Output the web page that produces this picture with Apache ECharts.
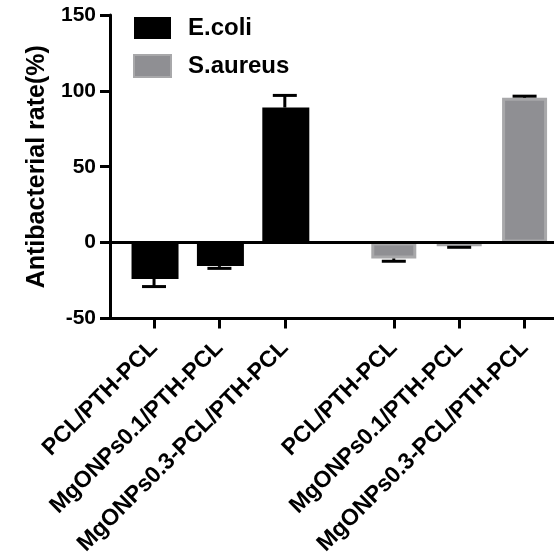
<!DOCTYPE html>
<html>
<head>
<meta charset="utf-8">
<script src="https://cdn.jsdelivr.net/npm/echarts@6/dist/echarts.min.js"></script>
<style>html,body{margin:0;padding:0;background:#fff;}#c{width:554px;height:558px;}</style>
</head>
<body>
<div id="c"></div>
<script>
// ---- data ----
const categories = ['PCL/PTH-PCL', 'MgONPs0.1/PTH-PCL', 'MgONPs0.3-PCL/PTH-PCL'];
const seriesNames = ['E.coli', 'S.aureus'];
const ecoliMean = [-24, -15.5, 89];
const ecoliSD = [5, 1.5, 8];
const saureusMean = [-10.5, -2.5, 95.5];
const saureusSD = [1.8, 0.6, 1];
const yTicks = [-50, 0, 50, 100, 150];

// ---- layout helpers (group g, item i) ----
const pos = (g, i) => g * 11 + i * 3;
const tickPos = [];
const tickName = {};
[0, 1].forEach(g => categories.forEach((c, i) => { tickPos.push(pos(g, i)); tickName[pos(g, i)] = c; }));

const FONT = '"Liberation Sans", Arial, Helvetica, sans-serif';
const chart = echarts.init(document.getElementById('c'), null, {renderer: 'canvas'});

function errItem(params, api) {
  const x = api.value(0), m = api.value(1), sd = api.value(2);
  const end = m >= 0 ? m + sd : m - sd;
  const p0 = api.coord([x, m]), p1 = api.coord([x, end]);
  const half = 12;
  return {
    type: 'group',
    children: [
      {type: 'line', shape: {x1: p0[0], y1: p0[1], x2: p1[0], y2: p1[1]}, style: {stroke: '#000', lineWidth: 3}},
      {type: 'line', shape: {x1: p1[0] - half, y1: p1[1], x2: p1[0] + half, y2: p1[1]}, style: {stroke: '#000', lineWidth: 3}}
    ]
  };
}

const option = {
  animation: false,
  backgroundColor: '#fff',
  grid: {left: 110, right: 0, top: 15, bottom: 237, containLabel: false},
  legend: {
    data: seriesNames,
    orient: 'vertical',
    left: 133, top: 16, padding: 0,
    itemWidth: 37, itemHeight: 22, itemGap: 14,
    icon: 'rect',
    textStyle: {fontFamily: FONT, fontSize: 24, fontWeight: 'bold', color: '#000', padding: [0, 0, 0, 12]}
  },
  xAxis: {
    type: 'value',
    min: -2.02, max: 18.35,
    splitLine: {show: false},
    axisLine: {show: true, onZero: false, lineStyle: {color: '#000', width: 3}},
    axisTick: {show: true, customValues: tickPos, length: 10, lineStyle: {color: '#000', width: 3}},
    axisLabel: {
      show: true, customValues: tickPos, rotate: 45, margin: 26,
      formatter: v => tickName[v] || '',
      fontFamily: FONT, fontSize: 23, fontWeight: 'bold', color: '#000'
    }
  },
  yAxis: {
    type: 'value',
    min: -50, max: 150, interval: 50,
    name: 'Antibacterial rate(%)',
    nameLocation: 'middle', nameGap: 58,
    nameTextStyle: {fontFamily: FONT, fontSize: 25, fontWeight: 'bold', color: '#000'},
    splitLine: {show: false},
    axisLine: {show: true, onZero: false, lineStyle: {color: '#000', width: 3}},
    axisTick: {show: true, length: 10, lineStyle: {color: '#000', width: 3}},
    axisLabel: {
      margin: 14, fontFamily: FONT, fontSize: 21, fontWeight: 'bold', color: '#000',
      formatter: v => yTicks.includes(v) ? String(v) : ''
    }
  },
  series: [
    {
      name: seriesNames[0], type: 'bar', barWidth: 47, barGap: '-100%',
      itemStyle: {color: '#000'},
      data: ecoliMean.map((v, i) => [pos(0, i), v]),
      markLine: {
        silent: true, symbol: ['none', 'none'], label: {show: false},
        lineStyle: {color: '#000', width: 3, type: 'solid'},
        data: [{yAxis: 0}]
      },
      z: 2
    },
    {
      name: seriesNames[1], type: 'bar', barWidth: 45, barGap: '-100%',
      itemStyle: {color: '#8f8f93', borderColor: '#a8a8aa', borderWidth: 3},
      data: saureusMean.map((v, i) => [pos(1, i), v]),
      z: 2
    },
    {
      type: 'custom', name: 'errE', renderItem: errItem, z: 5,
      encode: {x: 0, y: 1},
      data: ecoliMean.map((v, i) => [pos(0, i), v, ecoliSD[i]])
    },
    {
      type: 'custom', name: 'errS', renderItem: errItem, z: 5,
      encode: {x: 0, y: 1},
      data: saureusMean.map((v, i) => [pos(1, i), v, saureusSD[i]])
    }
  ]
};
chart.setOption(option);
</script>
</body>
</html>
